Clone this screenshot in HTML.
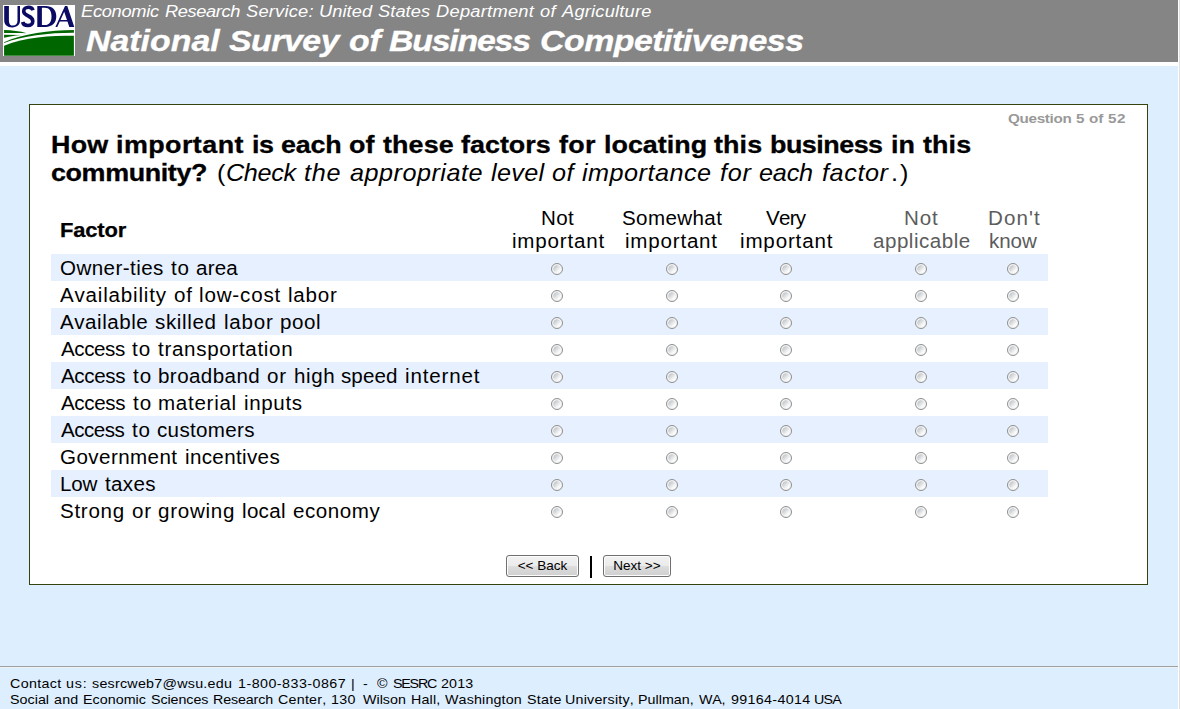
<!DOCTYPE html>
<html>
<head>
<meta charset="utf-8">
<title>National Survey of Business Competitiveness</title>
<style>
html,body{margin:0;padding:0;}
body{width:1180px;height:709px;overflow:hidden;background:#ddeefe;font-family:"Liberation Sans",sans-serif;color:#000;position:relative;}
.abs{position:absolute;}
.ln{position:absolute;left:0;white-space:nowrap;line-height:1;font-kerning:none;}
.ln span{position:absolute;top:0;transform-origin:0 0;transform:scaleX(1.05);}
.ln.b span{transform:scaleX(1.12);}
#hdr{left:0;top:0;width:1178px;height:62px;background:#858585;}
#hdrline{left:0;top:62px;width:1178px;height:4px;background:#fff;}
#edge1{left:1178px;top:0;width:1px;height:709px;background:#fff;}
#edge2{left:1179px;top:0;width:1px;height:709px;background:#e0e0e0;}
#logo{left:3px;top:5px;width:72px;height:51px;background:#fff;}
#box{left:29px;top:104px;width:1117px;height:479px;background:#fff;border:1px solid #35440c;}
.rb{position:absolute;left:51px;width:997px;height:27px;background:#e7f0ff;}
.r{position:absolute;width:12px;height:12px;border-radius:50%;border:1px solid #8e8f8f;box-sizing:border-box;background:radial-gradient(circle closest-side at 50% 50%,rgba(243,243,243,0) 0,rgba(244,244,244,0) 68%,#f4f4f4 80%),linear-gradient(135deg,#c3c8cc 25%,#fdfdfd 72%);}
.btn{position:absolute;box-sizing:border-box;height:22px;border:1px solid #707070;border-radius:3px;background:linear-gradient(#f2f2f2 0%,#ebebeb 48%,#dddddd 52%,#cfcfcf 100%);box-shadow:inset 0 0 0 1px #fcfcfc;font-size:13.5px;text-align:center;line-height:19px;color:#000;}
#foot{left:0;top:666px;width:1178px;height:1px;background:#a0a0a0;border-bottom:1px solid #eef1f4;}
</style>
</head>
<body>
<div id="hdr" class="abs"></div>
<div id="hdrline" class="abs"></div>
<div id="edge1" class="abs"></div>
<div id="edge2" class="abs"></div>
<svg class="abs" style="left:0;top:0" width="80" height="60" viewBox="0 0 80 60">
<rect x="3" y="5" width="72" height="51" fill="#fff"/>
<g fill="#0b0b63" fill-rule="evenodd">
<path d="M4.2,5.9 L8.9,5.9 L8.9,20.4 C8.9,24 10.4,25.6 13,25.6 C15.8,25.6 17.5,23.8 17.5,20.4 L17.5,5.9 L20,5.9 L20,20.6 C20,25 17,27.4 12.3,27.4 C7.2,27.4 4.2,25 4.2,20.3 Z"/>
<path d="M33.0,10.2 C32.4,8.3 30.7,7.3 28.4,7.3 C25.6,7.3 23.7,8.9 23.7,11.2 C23.7,13.7 25.8,14.9 28.3,16.0 C31.0,17.2 32.8,18.6 32.8,21.2 C32.8,23.9 30.7,25.5 27.8,25.5 C25.1,25.5 23.2,24.3 22.6,22.0" fill="none" stroke="#0b0b63" stroke-width="3.6"/>
<path d="M37.3,5.9 L45.5,5.9 C52.5,5.9 56.3,9.8 56.3,16.3 C56.3,22.9 52.3,26.9 45.5,26.9 L37.3,26.9 Z M41.9,7.7 L44.8,7.7 C49.3,7.7 51.5,10.9 51.5,16.3 C51.5,21.8 49.3,25.1 44.8,25.1 L41.9,25.1 Z"/>
<path d="M55.4,26.9 L65.0,5.9 L67.3,5.9 L74.3,26.9 L69.3,26.9 L67.5,21.5 L59.77,21.5 L57.3,26.9 Z M64.2,11.7 L66.97,19.9 L60.5,19.9 Z"/>
</g>
<g fill="#006600">
<path d="M4.07,30.1 C12,30.2 20,31.3 26.8,33.2 C20,33.0 12,33.0 4.07,33.0 Z"/>
<path d="M4.07,34.8 L21,34.9 C14,35.6 9,36.8 4.07,37.8 Z"/>
<path d="M73.9,30.1 C50,30.1 22,33.9 4.07,42.3 L4.07,43.1 C22,35.9 50,32.7 73.9,32.8 Z"/>
<path d="M4.07,45.7 C25,37 50,35.7 73.9,35.7 L73.9,55.8 L4.07,55.8 Z"/>
</g>
</svg>
<div id="box" class="abs"></div>
<div class="rb" style="top:254px"></div>
<div class="rb" style="top:308px"></div>
<div class="rb" style="top:362px"></div>
<div class="rb" style="top:416px"></div>
<div class="rb" style="top:470px"></div>
<div id="h1" class="ln" style="top:2.74px;font-size:17.40px;font-style:italic;color:#fff;"><span style="left:81.20px;letter-spacing:-0.27px">Economic</span><span style="left:164.86px;letter-spacing:-0.37px">Research</span><span style="left:245.96px;letter-spacing:0.21px">Service:</span><span style="left:319.39px;letter-spacing:0.06px">United</span><span style="left:378.31px;letter-spacing:0.06px">States</span><span style="left:436.33px;letter-spacing:0.26px">Department</span><span style="left:540.28px;letter-spacing:0.21px">of</span><span style="left:561.71px;letter-spacing:0.20px">Agriculture</span></div>
<div id="h2" class="ln b" style="top:25.91px;font-size:30.20px;font-weight:bold;font-style:italic;color:#fff;-webkit-text-stroke:0.35px #fff;"><span style="left:85.54px;letter-spacing:0.04px;transform:scaleX(1.12)">National</span><span style="left:228.80px;letter-spacing:-0.41px;transform:scaleX(1.12)">Survey</span><span style="left:348.66px;letter-spacing:-0.22px;transform:scaleX(1.12)">of</span><span style="left:389.31px;letter-spacing:-1.06px;transform:scaleX(1.12)">Business</span><span style="left:540.23px;letter-spacing:-0.42px;transform:scaleX(1.12)">Competitiveness</span></div>
<div id="qn" class="ln b" style="top:111.55px;font-size:13.60px;font-weight:bold;color:#999;"><span style="left:1007.82px;letter-spacing:-0.28px">Question</span><span style="left:1076.10px;letter-spacing:0.48px">5</span><span style="left:1089.09px;letter-spacing:-0.15px">of</span><span style="left:1107.82px;letter-spacing:0.48px">52</span></div>
<div id="q1" class="ln b" style="top:132.68px;font-size:24.00px;font-weight:bold;-webkit-text-stroke:0.3px #000;"><span style="left:51.01px;letter-spacing:0.20px">How</span><span style="left:116.37px;letter-spacing:0.39px">important</span><span style="left:251.61px;letter-spacing:-0.43px">is</span><span style="left:281.03px;letter-spacing:-0.20px">each</span><span style="left:349.36px;letter-spacing:0.03px">of</span><span style="left:382.69px;letter-spacing:0.11px">these</span><span style="left:461.32px;letter-spacing:0.01px">factors</span><span style="left:559.02px;letter-spacing:0.30px">for</span><span style="left:603.53px;letter-spacing:0.00px">locating</span><span style="left:714.49px;letter-spacing:0.10px">this</span><span style="left:770.26px;letter-spacing:-0.44px">business</span><span style="left:890.99px;letter-spacing:0.13px">in</span><span style="left:922.99px;letter-spacing:0.10px">this</span></div>
<div id="q2a" class="ln b" style="top:160.68px;font-size:24.00px;font-weight:bold;-webkit-text-stroke:0.3px #000;"><span style="left:51.13px;letter-spacing:-0.34px">community?</span></div>
<div id="q2p" class="ln" style="top:160.84px;font-size:24.00px;"><span style="left:216.89px;letter-spacing:0.31px">(</span></div>
<div id="q2b" class="ln" style="top:160.68px;font-size:24.00px;font-style:italic;"><span style="left:226.14px;letter-spacing:-0.32px">Check</span><span style="left:304.47px;letter-spacing:0.70px">the</span><span style="left:349.65px;letter-spacing:0.47px">appropriate</span><span style="left:490.57px;letter-spacing:0.32px">level</span><span style="left:552.21px;letter-spacing:0.47px">of</span><span style="left:582.28px;letter-spacing:0.47px">importance</span><span style="left:720.06px;letter-spacing:0.76px">for</span><span style="left:759.44px;letter-spacing:-0.17px">each</span><span style="left:821.82px;letter-spacing:0.56px">factor</span></div>
<div id="q2e" class="ln" style="top:160.84px;font-size:24.00px;"><span style="left:891.09px;letter-spacing:1.83px">.)</span></div>
<div id="fac" class="ln b" style="top:221.15px;font-size:19.60px;font-weight:bold;-webkit-text-stroke:0.25px #000;"><span style="left:60.12px;letter-spacing:-0.15px">Factor</span></div>
<div id="r1" class="ln" style="top:258.72px;font-size:19.60px;"><span style="left:60.24px;letter-spacing:0.41px">Owner-ties</span><span style="left:170.95px;letter-spacing:0.83px">to</span><span style="left:196.16px;letter-spacing:0.20px">area</span></div>
<div id="r2" class="ln" style="top:285.72px;font-size:19.60px;"><span style="left:60.15px;letter-spacing:0.76px">Availability</span><span style="left:173.79px;letter-spacing:0.76px">of</span><span style="left:199.45px;letter-spacing:0.79px">low-cost</span><span style="left:288.38px;letter-spacing:0.72px">labor</span></div>
<div id="r3" class="ln" style="top:312.72px;font-size:19.60px;"><span style="left:60.14px;letter-spacing:0.51px">Available</span><span style="left:155.37px;letter-spacing:0.60px">skilled</span><span style="left:223.94px;letter-spacing:0.71px">labor</span><span style="left:280.21px;letter-spacing:0.56px">pool</span></div>
<div id="r4" class="ln" style="top:339.72px;font-size:19.60px;"><span style="left:61.18px;letter-spacing:-0.39px">Access</span><span style="left:132.38px;letter-spacing:0.87px">to</span><span style="left:157.94px;letter-spacing:0.65px">transportation</span></div>
<div id="r5" class="ln" style="top:366.72px;font-size:19.60px;"><span style="left:61.20px;letter-spacing:-0.35px">Access</span><span style="left:132.73px;letter-spacing:0.92px">to</span><span style="left:158.27px;letter-spacing:0.40px">broadband</span><span style="left:267.37px;letter-spacing:0.68px">or</span><span style="left:293.74px;letter-spacing:0.56px">high</span><span style="left:341.45px;letter-spacing:0.07px">speed</span><span style="left:404.98px;letter-spacing:0.79px">internet</span></div>
<div id="r6" class="ln" style="top:393.72px;font-size:19.60px;"><span style="left:61.20px;letter-spacing:-0.35px">Access</span><span style="left:132.71px;letter-spacing:0.92px">to</span><span style="left:158.39px;letter-spacing:0.68px">material</span><span style="left:243.99px;letter-spacing:0.60px">inputs</span></div>
<div id="r7" class="ln" style="top:420.72px;font-size:19.60px;"><span style="left:61.15px;letter-spacing:-0.46px">Access</span><span style="left:131.91px;letter-spacing:0.82px">to</span><span style="left:157.17px;letter-spacing:0.32px">customers</span></div>
<div id="r8" class="ln" style="top:447.72px;font-size:19.60px;"><span style="left:60.38px;letter-spacing:0.41px">Government</span><span style="left:184.58px;letter-spacing:0.34px">incentives</span></div>
<div id="r9" class="ln" style="top:474.72px;font-size:19.60px;"><span style="left:60.37px;letter-spacing:-0.13px">Low</span><span style="left:104.61px;letter-spacing:0.34px">taxes</span></div>
<div id="r10" class="ln" style="top:501.72px;font-size:19.60px;"><span style="left:59.84px;letter-spacing:0.67px">Strong</span><span style="left:131.55px;letter-spacing:0.77px">or</span><span style="left:158.20px;letter-spacing:0.69px">growing</span><span style="left:241.92px;letter-spacing:0.29px">local</span><span style="left:292.67px;letter-spacing:0.51px">economy</span></div>
<div id="c1a" class="ln" style="top:208.72px;font-size:19.60px;"><span style="left:540.94px;letter-spacing:0.28px">Not</span></div>
<div id="c1b" class="ln" style="top:231.72px;font-size:19.60px;"><span style="left:512.18px;letter-spacing:0.76px">important</span></div>
<div id="c2a" class="ln" style="top:208.72px;font-size:19.60px;"><span style="left:622.33px;letter-spacing:0.37px">Somewhat</span></div>
<div id="c2b" class="ln" style="top:231.72px;font-size:19.60px;"><span style="left:625.06px;letter-spacing:0.75px">important</span></div>
<div id="c3a" class="ln" style="top:208.72px;font-size:19.60px;"><span style="left:765.97px;letter-spacing:-0.68px">Very</span></div>
<div id="c3b" class="ln" style="top:231.72px;font-size:19.60px;"><span style="left:739.50px;letter-spacing:0.79px">important</span></div>
<div id="c4a" class="ln" style="top:208.72px;font-size:19.60px;color:#5c5c5c;"><span style="left:904.07px;letter-spacing:0.80px">Not</span></div>
<div id="c4b" class="ln" style="top:231.72px;font-size:19.60px;color:#5c5c5c;"><span style="left:873.20px;letter-spacing:0.49px">applicable</span></div>
<div id="c5a" class="ln" style="top:208.72px;font-size:19.60px;color:#5c5c5c;"><span style="left:987.78px;letter-spacing:1.01px">Don't</span></div>
<div id="c5b" class="ln" style="top:231.72px;font-size:19.60px;color:#5c5c5c;"><span style="left:989.11px;letter-spacing:-0.05px">know</span></div>
<div id="f1a" class="ln" style="top:677.43px;font-size:13.60px;"><span style="left:9.79px;letter-spacing:0.34px">Contact</span><span style="left:66.44px;letter-spacing:0.81px">us:</span><span style="left:92.46px;letter-spacing:0.24px">sesrcweb7@wsu.edu</span></div>
<div id="f1b" class="ln" style="top:677.43px;font-size:13.60px;"><span style="left:238.09px;letter-spacing:0.45px">1-800-833-0867</span></div>
<div id="f1c" class="ln" style="top:677.43px;font-size:13.60px;"><span style="left:351.20px;letter-spacing:3.26px">|</span><span style="left:363.34px;letter-spacing:2.26px">-</span><span style="left:377.40px;letter-spacing:4.93px">©</span></div>
<div id="f1d" class="ln" style="top:677.43px;font-size:13.60px;"><span style="left:392.90px;letter-spacing:-1.17px">SESRC</span><span style="left:441.11px;letter-spacing:0.12px">2013</span></div>
<div id="f2a" class="ln" style="top:693.43px;font-size:13.60px;"><span style="left:10.24px;letter-spacing:0.03px">Social</span><span style="left:54.08px;letter-spacing:0.22px">and</span><span style="left:83.15px;letter-spacing:0.03px">Economic</span><span style="left:150.71px;letter-spacing:-0.07px">Sciences</span></div>
<div id="f2b" class="ln" style="top:693.43px;font-size:13.60px;"><span style="left:213.38px;letter-spacing:-0.13px">Research</span><span style="left:278.15px;letter-spacing:0.22px">Center,</span><span style="left:331.28px;letter-spacing:0.35px">130</span></div>
<div id="f2c" class="ln" style="top:693.43px;font-size:13.60px;"><span style="left:363.36px;letter-spacing:0.01px">Wilson</span><span style="left:410.95px;letter-spacing:0.17px">Hall,</span><span style="left:444.98px;letter-spacing:0.14px">Washington</span><span style="left:526.52px;letter-spacing:0.27px">State</span></div>
<div id="f2d" class="ln" style="top:693.43px;font-size:13.60px;"><span style="left:564.94px;letter-spacing:0.21px">University,</span><span style="left:638.46px;letter-spacing:0.02px">Pullman,</span><span style="left:698.55px;letter-spacing:-0.28px">WA,</span></div>
<div id="f2e" class="ln" style="top:693.43px;font-size:13.60px;"><span style="left:730.99px;letter-spacing:0.31px">99164-4014</span><span style="left:814.48px;letter-spacing:-0.74px">USA</span></div>
<i class="r" style="left:551px;top:263px"></i>
<i class="r" style="left:666px;top:263px"></i>
<i class="r" style="left:780px;top:263px"></i>
<i class="r" style="left:915px;top:263px"></i>
<i class="r" style="left:1007px;top:263px"></i>
<i class="r" style="left:551px;top:290px"></i>
<i class="r" style="left:666px;top:290px"></i>
<i class="r" style="left:780px;top:290px"></i>
<i class="r" style="left:915px;top:290px"></i>
<i class="r" style="left:1007px;top:290px"></i>
<i class="r" style="left:551px;top:317px"></i>
<i class="r" style="left:666px;top:317px"></i>
<i class="r" style="left:780px;top:317px"></i>
<i class="r" style="left:915px;top:317px"></i>
<i class="r" style="left:1007px;top:317px"></i>
<i class="r" style="left:551px;top:344px"></i>
<i class="r" style="left:666px;top:344px"></i>
<i class="r" style="left:780px;top:344px"></i>
<i class="r" style="left:915px;top:344px"></i>
<i class="r" style="left:1007px;top:344px"></i>
<i class="r" style="left:551px;top:371px"></i>
<i class="r" style="left:666px;top:371px"></i>
<i class="r" style="left:780px;top:371px"></i>
<i class="r" style="left:915px;top:371px"></i>
<i class="r" style="left:1007px;top:371px"></i>
<i class="r" style="left:551px;top:398px"></i>
<i class="r" style="left:666px;top:398px"></i>
<i class="r" style="left:780px;top:398px"></i>
<i class="r" style="left:915px;top:398px"></i>
<i class="r" style="left:1007px;top:398px"></i>
<i class="r" style="left:551px;top:425px"></i>
<i class="r" style="left:666px;top:425px"></i>
<i class="r" style="left:780px;top:425px"></i>
<i class="r" style="left:915px;top:425px"></i>
<i class="r" style="left:1007px;top:425px"></i>
<i class="r" style="left:551px;top:452px"></i>
<i class="r" style="left:666px;top:452px"></i>
<i class="r" style="left:780px;top:452px"></i>
<i class="r" style="left:915px;top:452px"></i>
<i class="r" style="left:1007px;top:452px"></i>
<i class="r" style="left:551px;top:479px"></i>
<i class="r" style="left:666px;top:479px"></i>
<i class="r" style="left:780px;top:479px"></i>
<i class="r" style="left:915px;top:479px"></i>
<i class="r" style="left:1007px;top:479px"></i>
<i class="r" style="left:551px;top:506px"></i>
<i class="r" style="left:666px;top:506px"></i>
<i class="r" style="left:780px;top:506px"></i>
<i class="r" style="left:915px;top:506px"></i>
<i class="r" style="left:1007px;top:506px"></i>
<div class="btn" style="left:506px;top:555px;width:73px;">&lt;&lt; Back</div>
<div class="abs" style="left:590px;top:556px;width:2px;height:22px;background:#000;"></div>
<div class="btn" style="left:603px;top:555px;width:68px;">Next &gt;&gt;</div>
<div id="foot" class="abs"></div>
</body>
</html>
